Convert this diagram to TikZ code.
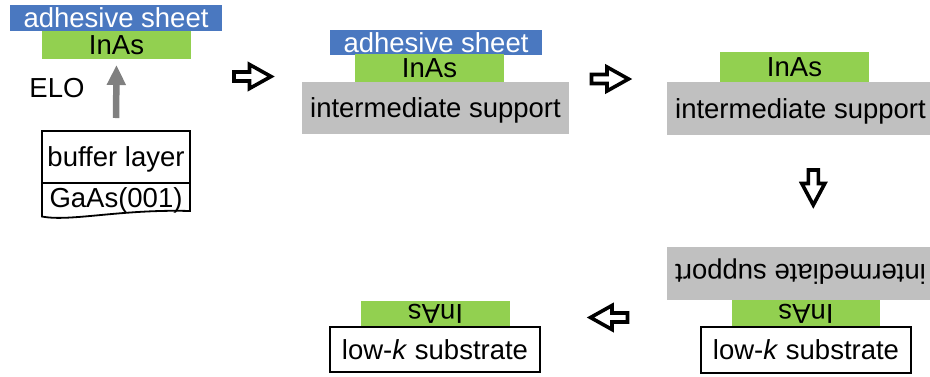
\documentclass[tikz,border=0pt]{standalone}
\usepackage{fontspec}
\setmainfont{Liberation Sans}
\usetikzlibrary{arrows.meta}
\definecolor{adhblue}{HTML}{4A78C0}
\definecolor{inasgreen}{HTML}{92D050}
\definecolor{supgray}{HTML}{C0C0C0}
\definecolor{elogray}{HTML}{808080}
\begin{document}
\begin{tikzpicture}[x=1pt,y=-1pt,
  every node/.style={inner sep=0pt, outer sep=0pt,
    font=\fontsize{27.5}{30}\selectfont, text height=19pt, text depth=0pt},
  adhesive/.style={fill=adhblue, text=white, minimum width=212pt, minimum height=#1},
  inas/.style={fill=inasgreen, minimum width=149pt, minimum height=#1},
  support/.style={fill=supgray, minimum width=267pt, minimum height=#1},
  substrate/.style={draw=black, line width=1.8pt, fill=white, minimum width=210pt, minimum height=#1},
  hollowarrow/.style={line width=3.6pt, line join=miter, fill=white},
  blockarrow/.pic={\draw[hollowarrow]
     (-18.5,-4.5) -- (-3,-4.5) -- (-3,-12) -- (18.5,0) -- (-3,12) -- (-3,4.5) -- (-18.5,4.5) -- cycle;},
  downarrow/.pic={\draw[hollowarrow]
     (-18,-5) -- (-4.5,-5) -- (-4.5,-11.5) -- (17,0) -- (-4.5,11.5) -- (-4.5,5) -- (-18,5) -- cycle;}
]
\useasboundingbox (0,0) rectangle (930,376);

% panel 1
\node[adhesive=26pt] (adh1) at (116,18) {adhesive sheet};
\node[inas=28pt] (inas1) at (116.5,45) {InAs};
\node (elo) at (57,88) {ELO};
\node[draw=black, line width=1.8pt, minimum width=148pt, minimum height=52pt] (buf) at (116,157) {buffer layer};
\node (gaas) at (116,197.5) {GaAs(001)};
\draw[line width=1.8pt] (buf.south west) -- (42,216.5)
   .. controls (70,222) and (120,209) .. (190,211) -- (buf.south east);
\draw[elogray, line width=6.5pt, -{Triangle[length=20pt,width=18pt]},
   shorten <=13pt, shorten >=6pt] (buf.north) -- (inas1.south);

\pic (a1) at (252.5,76.5) {blockarrow};

% panel 2
\node[adhesive=25pt] (adh2) at (436,42.5) {adhesive sheet};
\node[inas=28pt] (inas2) at (429.5,68) {InAs};
\node[support=52pt] (sup2) at (435.5,108) {intermediate support};

\pic (a2) at (610,79) {blockarrow};

% panel 3
\node[inas=30pt] (inas3) at (794.5,67) {InAs};
\node[support=53pt] (sup3) at (800.5,108.5) {intermediate support};

\pic[rotate=-90] (a3) at (813.3,188) {downarrow};

% panel 4
\node[support=53pt, rotate=180] (sup4) at (800.5,273.5) {intermediate support};
\node[inas=27pt, minimum width=148pt, rotate=180] (inas4) at (806,313.5) {InAs};
\node[substrate=46pt] (sub4) at (806,350) {low-\textit{k} substrate};

\pic[rotate=180] (a4) at (609,317.5) {blockarrow};

% panel 5
\node[inas=26pt, rotate=180] (inas5) at (435.5,314) {InAs};
\node[substrate=45pt] (sub5) at (435,349.5) {low-\textit{k} substrate};
\end{tikzpicture}
\end{document}
